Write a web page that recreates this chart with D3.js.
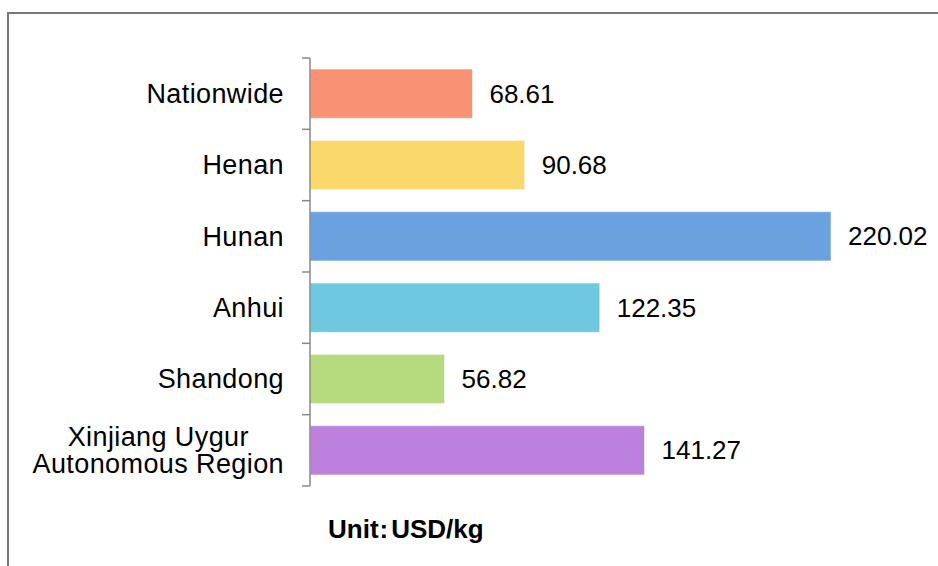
<!DOCTYPE html>
<html>
<head>
<meta charset="utf-8">
<script src="https://cdn.jsdelivr.net/npm/d3@7"></script>
<style>
  body { margin: 0; background: #fff; }
  text { font-family: "Liberation Sans", Arial, sans-serif; fill: #000; }
</style>
</head>
<body>
<div id="chart"></div>
<script>
// data
var regions = ["Nationwide", "Henan", "Hunan", "Anhui", "Shandong", "Xinjiang Uygur\nAutonomous Region"];
var prices = [68.61, 90.68, 220.02, 122.35, 56.82, 141.27];
var barColors = ["#F89272", "#FAD86C", "#6AA2E0", "#6EC8E0", "#B6DB7E", "#BC80DF"];

var width = 938, height = 566;

var svg = d3.select("#chart")
  .append("svg")
  .attr("width", width)
  .attr("height", height);

// outer frame
svg.append("rect")
  .attr("x", 8)
  .attr("y", 13)
  .attr("width", 960)
  .attr("height", 600)
  .attr("fill", "none")
  .attr("stroke", "#777")
  .attr("stroke-width", 2);

var x = d3.scaleLinear().domain([0, 250]).range([310, 902]);
var y = d3.scaleBand().domain(regions).range([58, 486]).paddingInner(0.31).paddingOuter(0.155);

var data = regions.map(function (r, i) {
  return { region: r, value: prices[i], color: barColors[i] };
});

// bars
svg.append("g")
  .selectAll("rect")
  .data(data)
  .join("rect")
  .attr("x", x(0))
  .attr("y", function (d) { return y(d.region); })
  .attr("width", function (d) { return x(d.value) - x(0); })
  .attr("height", y.bandwidth())
  .attr("fill", function (d) { return d.color; })
  .attr("stroke", "#fff")
  .attr("stroke-opacity", 0.5)
  .attr("stroke-width", 1);

// value labels
svg.append("g")
  .selectAll("text")
  .data(data)
  .join("text")
  .attr("x", function (d) { return x(d.value) + 17; })
  .attr("y", function (d) { return y(d.region) + y.bandwidth() / 2; })
  .attr("dy", "0.35em")
  .style("font-size", "26px")
  .text(function (d) { return d.value.toFixed(2); });

// category axis line and ticks at band edges
var axis = svg.append("g").attr("stroke", "#888").attr("stroke-width", 1.5);
axis.append("line")
  .attr("x1", x(0)).attr("x2", x(0))
  .attr("y1", y.range()[0]).attr("y2", y.range()[1]);
var edges = [y.range()[0]];
regions.forEach(function (r) {
  edges.push(y(r) + y.bandwidth() + y.step() * y.paddingInner() / 2);
});
edges[edges.length - 1] = y.range()[1];
axis.selectAll(".tick")
  .data(edges)
  .join("line")
  .attr("x1", x(0) - 8).attr("x2", x(0))
  .attr("y1", function (d) { return d; })
  .attr("y2", function (d) { return d; });

// category labels (multi-line ones centred on the block)
var labelRight = 284, lineH = 27;
regions.forEach(function (r) {
  var lines = r.split("\n");
  var cy = y(r) + y.bandwidth() / 2;
  var t = svg.append("text")
    .style("font-size", "27px")
    .style("letter-spacing", "0.4px")
    .attr("text-anchor", lines.length > 1 ? "middle" : "end");
  lines.forEach(function (ln, i) {
    t.append("tspan")
      .attr("y", cy + (i - (lines.length - 1) / 2) * lineH)
      .attr("dy", "0.35em")
      .text(ln);
  });
  if (lines.length > 1) {
    var w = 0;
    t.selectAll("tspan").each(function () { w = Math.max(w, this.getComputedTextLength()); });
    t.selectAll("tspan").attr("x", labelRight - w / 2);
  } else {
    t.selectAll("tspan").attr("x", labelRight);
  }
});

// unit note
var unit = svg.append("text")
  .attr("x", 328)
  .attr("y", 538)
  .style("font-size", "26px")
  .style("font-weight", "bold");
unit.append("tspan").text("Unit");
unit.append("tspan").attr("dx", 1).text(":");
unit.append("tspan").attr("dx", 3).text("USD/kg");
</script>
</body>
</html>
